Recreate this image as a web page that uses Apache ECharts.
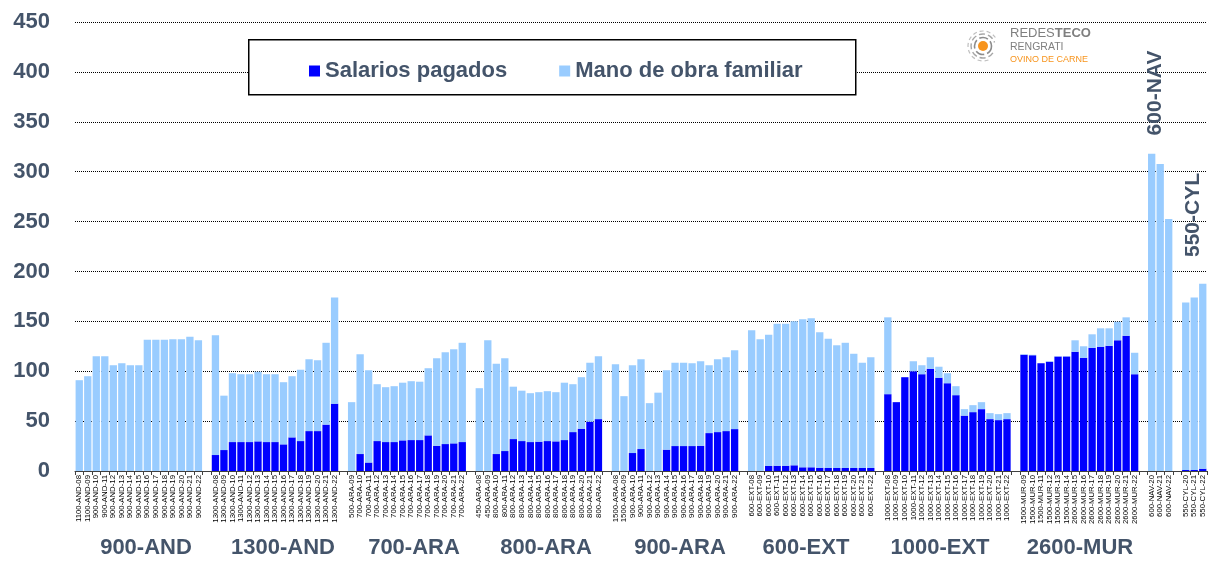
<!DOCTYPE html>
<html>
<head>
<meta charset="utf-8">
<script src="https://cdn.jsdelivr.net/npm/echarts@6/dist/echarts.min.js"></script>
<style>
  html, body { margin: 0; padding: 0; background: #fff; }
  #chart { width: 1208px; height: 561px; }
</style>
</head>
<body>
<div id="chart"></div>
<script>
// categorias (cadena vacia = hueco entre grupos)
var categorias = [
    '1100-AND-08','1100-AND-09','900-AND-10','900-AND-11','900-AND-12','900-AND-13','900-AND-14','900-AND-15','900-AND-16','900-AND-17','900-AND-18','900-AND-19','900-AND-20','900-AND-21','900-AND-22','',
    '1300-AND-08','1300-AND-09','1300-AND-10','1300-AND-11','1300-AND-12','1300-AND-13','1300-AND-14','1300-AND-15','1300-AND-16','1300-AND-17','1300-AND-18','1300-AND-19','1300-AND-20','1300-AND-21','1300-AND-22','',
    '500-ARA-09','700-ARA-10','700-ARA-11','700-ARA-12','700-ARA-13','700-ARA-14','700-ARA-15','700-ARA-16','700-ARA-17','700-ARA-18','700-ARA-19','700-ARA-20','700-ARA-21','700-ARA-22','',
    '450-ARA-08','450-ARA-09','800-ARA-10','800-ARA-11','800-ARA-12','800-ARA-13','800-ARA-14','800-ARA-15','800-ARA-16','800-ARA-17','800-ARA-18','800-ARA-19','800-ARA-20','800-ARA-21','800-ARA-22','',
    '1500-ARA-08','1500-ARA-09','900-ARA-10','900-ARA-11','900-ARA-12','900-ARA-13','900-ARA-14','900-ARA-15','900-ARA-16','900-ARA-17','900-ARA-18','900-ARA-19','900-ARA-20','900-ARA-21','900-ARA-22','',
    '600-EXT-08','600-EXT-09','600-EXT-10','600-EXT-11','600-EXT-12','600-EXT-13','600-EXT-14','600-EXT-15','600-EXT-16','600-EXT-17','600-EXT-18','600-EXT-19','600-EXT-20','600-EXT-21','600-EXT-22','',
    '1000-EXT-08','1000-EXT-09','1000-EXT-10','1000-EXT-11','1000-EXT-12','1000-EXT-13','1000-EXT-14','1000-EXT-15','1000-EXT-16','1000-EXT-17','1000-EXT-18','1000-EXT-19','1000-EXT-20','1000-EXT-21','1000-EXT-22','',
    '1500-MUR-09','1500-MUR-10','1500-MUR-11','1500-MUR-12','1500-MUR-13','1500-MUR-14','2600-MUR-15','2600-MUR-16','2600-MUR-17','2600-MUR-18','2600-MUR-19','2600-MUR-20','2600-MUR-21','2600-MUR-22','',
    '600-NAV-20','600-NAV-21','600-NAV-22','',
    '550-CYL-20','550-CYL-21','550-CYL-22'
];

// Salarios pagados
var salarios = [
    0,0,0,0,0,0,0,0,0,0,0,0,0,0,0,'-',
    16,21,29,29,29,29.7,29,29,26.7,33.7,30,40,40,46.5,67.5,'-',
    0,17,8.5,30,29,29,30.7,31,31,35.7,25.3,27,27.7,29,'-',
    0,0,17,20,32,30,29,29.4,30,29.7,31,39,42.4,49.4,52,'-',
    0,0,18,22,0,0,21.4,25,25,25,25.3,38,39,40,42,'-',
    0,0,5,5.3,5.3,5.7,3.7,3.7,3.3,3,3,3,3,3,3,'-',
    77,69,94,100,97,102.5,93.5,88,76,55.5,59,62,52,51,52,'-',
    116.5,116,108,109.5,114.7,114.7,119.5,113.5,123.5,124.5,125.5,131,135.6,97,'-',
    0,0,0,'-',
    1,1,2.3
];

// Mano de obra familiar
var familiar = [
    91,95,115,115,106,108,106,106,131.5,131.5,131.5,132,132,134.5,131,'-',
    120,54.5,69,68,68,69.8,68,68,62.3,61.3,71.5,72,71,82,106.5,'-',
    69,100,92.5,57,55,56,57.8,59,58.5,67.3,87.7,92,94.3,99.5,'-',
    83,131,90.5,93,52.5,50.5,49,49.6,50,49.3,57.5,48,51.6,59.1,63,'-',
    107,75,88,90,68,78.5,79.6,83.5,83.5,83,84.7,68,73,74,79,'-',
    141,132,131.5,142.2,142.2,144.3,148.3,149.3,135.7,129.5,123,125.5,114.5,105.5,111,'-',
    77,0,0,10,9,11.5,11,10,9,6.5,7,7,6,6,6,'-',
    0.5,0.5,0,0.5,0.3,0.3,11.5,11.5,13.5,18.5,17.5,18.6,18.4,21.5,'-',
    318,307.6,252.5,'-',
    168,173,185.4
];

var grupos = ['900-AND','1300-AND','700-ARA','800-ARA','900-ARA','600-EXT','1000-EXT','2600-MUR'];
var gruposX = [146, 283, 414, 546, 680, 806, 940, 1080];

var colorTexto = '#44546A';
var chart = echarts.init(document.getElementById('chart'));

var graficos = [
    // caja de la leyenda
    {type: 'rect', left: 248, top: 39, z: 3,
        shape: {width: 607, height: 55},
        style: {fill: '#fff', stroke: '#000', lineWidth: 1.5}},
    // logo
    {type: 'circle', shape: {cx: 983, cy: 46, r: 5}, style: {fill: '#F7941D'}, z: 3},
    {type: 'arc', shape: {cx: 983, cy: 46, r: 8.5, startAngle: 0, endAngle: Math.PI * 2}, style: {stroke: '#8c8c8c', lineWidth: 1.6, fill: null, lineDash: [9, 3]}, z: 3},
    {type: 'arc', shape: {cx: 983, cy: 46, r: 12, startAngle: 0.6, endAngle: Math.PI * 2 - 0.3}, style: {stroke: '#a6a6a6', lineWidth: 1.4, fill: null, lineDash: [6, 3]}, z: 3},
    {type: 'arc', shape: {cx: 983, cy: 46, r: 15, startAngle: 1.2, endAngle: Math.PI * 2 - 0.6}, style: {stroke: '#bfbfbf', lineWidth: 1.2, fill: null, lineDash: [4, 3]}, z: 3},
    {type: 'text', left: 1010, top: 27, z: 3,
        style: {text: '{a|REDES}{b|TECO}', rich: {
            a: {fontSize: 13, fontFamily: 'Liberation Sans', fill: '#7f7f7f'},
            b: {fontSize: 13, fontFamily: 'Liberation Sans', fontWeight: 'bold', fill: '#7f7f7f'}}}},
    {type: 'text', left: 1010, top: 42, z: 3,
        style: {text: 'RENGRATI', fontSize: 10.5, fontFamily: 'Liberation Sans', fill: '#7f7f7f'}},
    {type: 'text', left: 1010, top: 55, z: 3,
        style: {text: 'OVINO DE CARNE', fontSize: 9, fontFamily: 'Liberation Sans', fill: '#F7941D'}},
    // etiquetas verticales
    {type: 'text', x: 1155, y: 93, rotation: Math.PI / 2, z: 5,
        style: {text: '600-NAV', fontSize: 21, fontWeight: 'bold', fontFamily: 'Liberation Sans', fill: colorTexto, align: 'center', verticalAlign: 'middle'}},
    {type: 'text', x: 1193, y: 215, rotation: Math.PI / 2, z: 5,
        style: {text: '550-CYL', fontSize: 21, fontWeight: 'bold', fontFamily: 'Liberation Sans', fill: colorTexto, align: 'center', verticalAlign: 'middle'}}
];
// nombres de grupo bajo el eje
grupos.forEach(function (g, i) {
    graficos.push({type: 'text', x: gruposX[i], y: 548, z: 5,
        style: {text: g, fontSize: 22, fontWeight: 'bold', fontFamily: 'Liberation Sans', fill: colorTexto, align: 'center', verticalAlign: 'middle'}});
});

var option = {
    animation: false,
    backgroundColor: '#fff',
    textStyle: {fontFamily: 'Liberation Sans'},
    grid: {left: 75, right: 1, top: 22, bottom: 90},
    legend: {
        left: 304, top: 55, z: 6,
        itemWidth: 11, itemHeight: 11, itemGap: 52,
        icon: 'rect',
        textStyle: {fontSize: 22, fontWeight: 'bold', color: colorTexto, fontFamily: 'Liberation Sans'},
        data: ['Salarios pagados', 'Mano de obra familiar']
    },
    xAxis: {
        type: 'category',
        data: categorias,
        axisLine: {lineStyle: {color: '#404040', width: 1}},
        axisTick: {show: true, interval: 0, length: 4, lineStyle: {color: '#404040'}},
        axisLabel: {interval: 0, rotate: 90, fontSize: 7.8, color: '#000', margin: 4, fontFamily: 'Liberation Sans'}
    },
    yAxis: {
        type: 'value',
        min: 0, max: 450, interval: 50,
        axisLine: {show: false},
        axisTick: {show: false},
        axisLabel: {fontSize: 22, fontWeight: 'bold', color: colorTexto, margin: 25, fontFamily: 'Liberation Sans'},
        splitLine: {lineStyle: {color: '#000', type: 'dotted', width: 1}}
    },
    series: [
        {
            name: 'Salarios pagados', type: 'bar', stack: 'total',
            barCategoryGap: '14%',
            itemStyle: {color: '#0000FF'},
            data: salarios
        },
        {
            name: 'Mano de obra familiar', type: 'bar', stack: 'total',
            barCategoryGap: '14%',
            itemStyle: {color: '#99CCFF'},
            data: familiar
        }
    ],
    graphic: graficos
};
chart.setOption(option);
</script>
</body>
</html>
